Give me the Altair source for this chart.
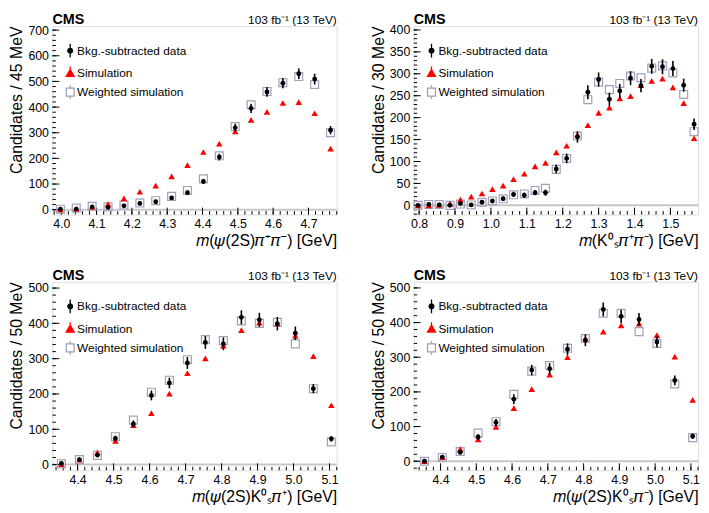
import altair as alt
import numpy as np
import pandas as pd

FONT = "Liberation Sans"
SERIES = ["Bkg.-subtracted data", "Simulation", "Weighted simulation"]
LUMI = "103 fb\u207b\u00b9 (13 TeV)"
GRAY = "#a0a0bc"
W, H = 288, 191

# ---------------- panel 1 : m(psi(2S) pi+ pi-) ----------------
p1_x = [3.9975, 4.0425, 4.0875, 4.1325, 4.1775, 4.2225, 4.2675, 4.3125, 4.3575,
        4.4025, 4.4475, 4.4925, 4.5375, 4.5825, 4.6275, 4.6725, 4.7175, 4.7625]
p1_data = [2, 2, 10, 9, 15, 24, 31, 46, 66, 110, 205, 319, 395, 459, 493, 530, 509, 310]
p1_err = [3, 3, 4, 5, 5, 5, 6, 7, 8, 10, 13, 16, 18, 19, 20, 21, 21, 16]
p1_sim = [1, 4, 12, 22, 44, 70, 94, 130, 174, 225, 257, 305, 350, 381, 416, 419, 376, 238]
p1_wsim = [2, 6, 13, 11, 18, 26, 35, 52, 75, 120, 210, 324, 409, 461, 495, 519, 488, 300]

# ---------------- panel 2 : m(K0S pi+ pi-) ----------------
p2_x = [0.797, 0.827, 0.856, 0.886, 0.915, 0.945, 0.975, 1.004, 1.034, 1.063, 1.093,
        1.123, 1.152, 1.182, 1.211, 1.241, 1.270, 1.300, 1.330, 1.359, 1.389, 1.418,
        1.448, 1.478, 1.507, 1.537, 1.566]
p2_data = [0, 2, 1, 0, 4, 1, 7, 10, 15, 25, 23, 29, 29, 83, 107, 156, 258, 287, 242,
           261, 290, 273, 317, 316, 312, 274, 185]
p2_err = [3, 3, 3, 3, 3, 3, 4, 4, 5, 6, 6, 6, 7, 10, 11, 13, 16, 16, 15, 16, 16, 15,
          17, 17, 17, 15, 13]
p2_sim = [0, 0, 1, 4, 13, 20, 27, 37, 45, 60, 72, 89, 97, 121, 136, 161, 183, 211, 223,
          244, 249, 274, 284, 289, 269, 233, 153]
p2_wsim = [0, 2, 2, 0, 3, 1, 7, 10, 15, 24, 26, 34, 39, 82, 107, 158, 241, 281, 264,
           278, 295, 291, 313, 318, 302, 253, 168]

# ---------------- panels 3 and 4 : m(psi(2S) K0S pi+/-) ----------------
p34_x = [4.355, 4.405, 4.455, 4.505, 4.555, 4.605, 4.655, 4.705, 4.755, 4.805, 4.855,
         4.905, 4.955, 5.005, 5.055, 5.105]
p3_data = [3, 14, 27, 74, 115, 196, 231, 288, 346, 342, 417, 410, 399, 372, 215, 73]
p3_err = [3, 5, 6, 8, 10, 14, 15, 17, 18, 18, 20, 20, 19, 19, 13, 8]
p3_sim = [1, 14, 34, 67, 112, 146, 201, 259, 301, 337, 381, 402, 399, 365, 307, 168]
p3_wsim = [2, 14, 26, 79, 126, 205, 239, 297, 354, 351, 407, 400, 403, 342, 215, 64]

p4_data = [0, 12, 26, 70, 112, 179, 263, 267, 323, 349, 438, 418, 409, 344, 233, 72]
p4_err = [3, 5, 6, 8, 10, 14, 15, 16, 17, 17, 20, 19, 19, 16, 14, 8]
p4_sim = [0, 12, 35, 63, 99, 153, 208, 250, 300, 354, 374, 392, 397, 364, 302, 177]
p4_wsim = [0, 11, 28, 81, 114, 193, 260, 276, 326, 354, 427, 427, 374, 340, 223, 68]

# axis ticks
x1_ticks = [4.0, 4.1, 4.2, 4.3, 4.4, 4.5, 4.6, 4.7]
x2_ticks = [0.8, 0.9, 1.0, 1.1, 1.2, 1.3, 1.4, 1.5]
x34_ticks = [4.4, 4.5, 4.6, 4.7, 4.8, 4.9, 5.0, 5.1]
y1_ticks = [0, 100, 200, 300, 400, 500, 600, 700]
y2_ticks = [0, 50, 100, 150, 200, 250, 300, 350, 400]
y34_ticks = [0, 100, 200, 300, 400, 500]

# legend symbols (unit coordinates)
SYM_DATA = "M0,-1.75L0,1.75M-0.6,0A0.6,0.6,0,1,0,0.6,0A0.6,0.6,0,1,0,-0.6,0Z"
SYM_SIM = "M0,-1.75L0,-0.9M0,-1L1,0.75L-1,0.75Z"
SYM_WSIM = "M-1,-1L1,-1L1,1L-1,1ZM0,-1.75L0,-1M0,1L0,1.75"


def minor(lo, hi, step):
    v = np.round(np.arange(np.floor(lo / step) * step, hi + step, step), 4)
    return [float(t) for t in v if lo <= t <= hi]


def panel(x, data, err, sim, wsim, xdom, ydom, xmaj, xstep, ymaj, ystep, xtitle, ytitle):
    xs = alt.Scale(domain=xdom, nice=False, zero=False)
    ys = alt.Scale(domain=ydom, nice=False, zero=False)
    xax = alt.Axis(values=xmaj, format=".1f", title=xtitle, titleAnchor="end",
                   titleFontSize=16, titleFontWeight="normal", titleFont=FONT,
                   titleColor="black", titlePadding=3, labelFontSize=12.5,
                   labelFont=FONT, labelColor="black", labelPadding=3, ticks=False,
                   domain=False, grid=False, labelFlush=False)
    yax = alt.Axis(values=ymaj, format="d", title=ytitle, titleAnchor="end",
                   titleFontSize=16, titleFontWeight="normal", titleFont=FONT,
                   titleColor="black", titlePadding=3, labelFontSize=12.5,
                   labelFont=FONT, labelColor="black", labelPadding=4, ticks=False,
                   domain=False, grid=False, labelFlush=False)

    def X(f):
        return alt.X(f, type="quantitative", scale=xs, axis=xax)

    def Y(f):
        return alt.Y(f, type="quantitative", scale=ys, axis=yax)

    df = pd.DataFrame({
        "x": x, "data": data, "sim": sim, "wsim": wsim,
        "lo": [d - e for d, e in zip(data, err)],
        "hi": [d + e for d, e in zip(data, err)],
    })
    n = len(x)
    long = pd.DataFrame({
        "x": list(x) * 3,
        "y": list(data) + list(sim) + list(wsim),
        "series": [SERIES[0]] * n + [SERIES[1]] * n + [SERIES[2]] * n,
    })

    zero = alt.Chart(pd.DataFrame({"z": [0]})).mark_rule(
        color="#c8c8c8", strokeWidth=2).encode(y=Y("z"))

    ymaj_df = pd.DataFrame({"t": ymaj})
    ymin_df = pd.DataFrame({"t": minor(ydom[0], ydom[1], ystep)})
    xmaj_df = pd.DataFrame({"t": xmaj})
    xmin_df = pd.DataFrame({"t": minor(xdom[0], xdom[1], xstep)})
    tick_y_major = alt.Chart(ymaj_df).mark_rule(color="black", strokeWidth=1).encode(
        y=Y("t"), x=alt.value(0), x2=alt.value(7))
    tick_y_minor = alt.Chart(ymin_df).mark_rule(color="black", strokeWidth=1).encode(
        y=Y("t"), x=alt.value(0), x2=alt.value(3.5))
    tick_x_major = alt.Chart(xmaj_df).mark_rule(color="black", strokeWidth=1).encode(
        x=X("t"), y=alt.value(H), y2=alt.value(H - 7))
    tick_x_minor = alt.Chart(xmin_df).mark_rule(color="black", strokeWidth=1).encode(
        x=X("t"), y=alt.value(H), y2=alt.value(H - 3.5))

    base = alt.Chart(df)
    squares = base.mark_point(shape="square", filled=False, stroke=GRAY,
                              strokeWidth=1.2, size=64, opacity=1).encode(
        x=X("x"), y=Y("wsim"))
    triangles = base.mark_point(shape="triangle-up", filled=True, color="#ff0000",
                                size=44, opacity=1).encode(x=X("x"), y=Y("sim"))
    errbars = base.mark_rule(color="black", strokeWidth=1.6).encode(
        x=X("x"), y=Y("lo"), y2="hi")
    dots = base.mark_circle(color="black", size=24, opacity=1).encode(
        x=X("x"), y=Y("data"))

    leg = alt.Legend(orient="none", legendX=12, legendY=19, title=None,
                     labelFontSize=12, labelFont=FONT, labelColor="black",
                     symbolSize=64, symbolStrokeWidth=1.3, symbolOpacity=1,
                     rowPadding=3, labelOffset=1, padding=0)
    legend_layer = alt.Chart(long).mark_point(opacity=0, size=64).encode(
        x=X("x"), y=Y("y"),
        shape=alt.Shape("series:N", scale=alt.Scale(
            domain=SERIES, range=[SYM_DATA, SYM_SIM, SYM_WSIM]), legend=leg),
        fill=alt.Fill("series:N", scale=alt.Scale(
            domain=SERIES, range=["black", "#ff0000", "transparent"]), legend=leg),
        stroke=alt.Stroke("series:N", scale=alt.Scale(
            domain=SERIES, range=["black", "#ff0000", GRAY]), legend=leg),
    )

    cms = alt.Chart(pd.DataFrame({"t": ["CMS"]})).mark_text(
        align="left", baseline="alphabetic", font=FONT, fontSize=14.5,
        fontWeight="bold", color="black").encode(
        x=alt.value(0), y=alt.value(-2), text="t:N")
    lumi = alt.Chart(pd.DataFrame({"t": [LUMI]})).mark_text(
        align="right", baseline="alphabetic", font=FONT, fontSize=12,
        color="black").encode(x=alt.value(W), y=alt.value(-2), text="t:N")

    return alt.layer(zero, tick_y_major, tick_y_minor, tick_x_major, tick_x_minor,
                     squares, triangles, errbars, dots, legend_layer, cms, lumi
                     ).properties(width=W, height=H)


M = "\U0001D45A"
PSI = "\U0001D713"
PI = "\U0001D70B"
KS = "K\u2070\u209b"

c1 = panel(p1_x, p1_data, p1_err, p1_sim, p1_wsim, [3.975, 4.78], [-19, 716],
           x1_ticks, 0.02, y1_ticks, 20,
           f"{M}({PSI}(2S){PI}\u207a{PI}\u207b) [GeV]", "Candidates / 45 MeV")
c2 = panel(p2_x, p2_data, p2_err, p2_sim, p2_wsim, [0.785, 1.577], [-21, 409],
           x2_ticks, 0.02, y2_ticks, 10,
           f"{M}({KS}{PI}\u207a{PI}\u207b) [GeV]", "Candidates / 30 MeV")
c3 = panel(p34_x, p3_data, p3_err, p3_sim, p3_wsim, [4.33, 5.12], [-16, 518],
           x34_ticks, 0.02, y34_ticks, 20,
           f"{M}({PSI}(2S){KS}{PI}\u207a) [GeV]", "Candidates / 50 MeV")
c4 = panel(p34_x, p4_data, p4_err, p4_sim, p4_wsim, [4.325, 5.12], [-26, 518],
           x34_ticks, 0.02, y34_ticks, 20,
           f"{M}({PSI}(2S){KS}{PI}\u207b) [GeV]", "Candidates / 50 MeV")

chart = alt.concat(c1, c2, c3, c4, columns=2, spacing={"row": 68, "column": 78},
                   bounds="flush").resolve_scale(
    shape="independent", fill="independent", stroke="independent").resolve_legend(
    shape="independent", fill="independent", stroke="independent").properties(
    padding=0).configure_view(stroke="black", strokeWidth=1).configure(
    background="white")

chart.save("out.html", embed_options={"renderer": "svg", "actions": False})
